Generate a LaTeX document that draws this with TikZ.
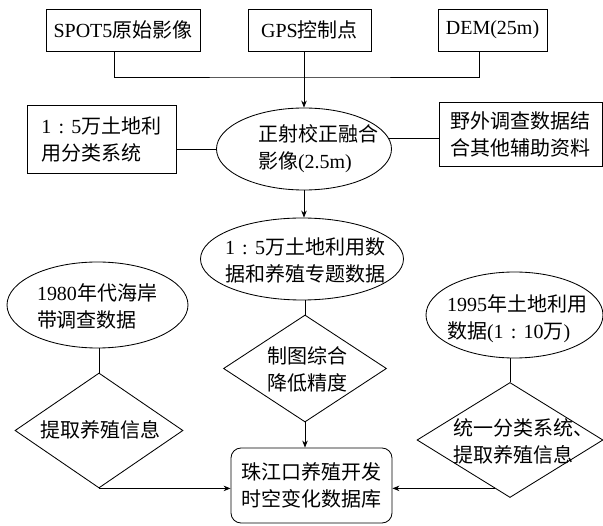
\documentclass[tikz,border=0pt]{standalone}
\usepackage{fontspec}
\setmainfont{Liberation Serif}
\newfontfamily\cjk{Noto Sans CJK SC}
\usetikzlibrary{shapes.geometric,arrows.meta,calc}
\newcommand\zh[1]{{\cjk #1}}
\newcommand\ratiocolon{\makebox[20pt][c]{:}}
\begin{document}
\begin{tikzpicture}[x=1pt,y=-1pt,
  box/.style={draw, line width=0.85pt, inner sep=0pt, fill=white, font=\fontsize{20}{27}\selectfont, align=left},
  rect/.style={box, rectangle},
  oval/.style={box, ellipse},
  dia/.style={box, diamond},
  txt/.style={inner sep=0pt, align=left, font=\fontsize{20}{27}\selectfont},
  link/.style={line width=0.85pt},
  arr/.style={link, -{Stealth[length=7pt,width=5.5pt]}}]
\useasboundingbox (0,0) rectangle (603,526);
% top sources
\node[rect, minimum width=154, minimum height=42] (spot) at (123,30) {SPOT5\zh{原始影像}};
\node[rect, minimum width=123, minimum height=42] (gps) at (309.5,30) {GPS\zh{控制点}};
\node[rect, minimum width=109, minimum height=42] (dem) at (492.5,30) {DEM(25m)};
% second row
\node[rect, minimum width=149, minimum height=68] (lbox) at (101.5,139) {1\ratiocolon 5\zh{万土地利}\\\zh{用分类系统}};
\node[oval, minimum width=175, minimum height=82] (e1) at (304,149) {};
\node[txt] (e1t) at (318,148.5) {\zh{正射校正融合}\\\zh{影像}(2.5m)};
\node[rect, minimum width=163, minimum height=64] (rbox) at (520.5,134) {\zh{野外调查数据结}\\\zh{合其他辅助资料}};
% third
\node[oval, minimum width=203, minimum height=82] (e2) at (302,259) {};
\node[txt] (e2t) at (305,260) {1\ratiocolon 5\zh{万土地利用数}\\\zh{据和养殖专题数据}};
\node[oval, minimum width=181, minimum height=86] (e80) at (97.5,305) {};
\node[txt] (e80t) at (97,306.5) {1980\zh{年代海岸}\\\zh{带调查数据}};
\node[oval, minimum width=177, minimum height=86] (e95) at (514.5,315) {};
\node[txt] (e95t) at (517,319) {1995\zh{年土地利用}\\\zh{数据}(1\ratiocolon 10\zh{万})};
% diamonds
\node[dia, minimum width=163, minimum height=107] (dm) at (305,368.5) {};
\node[txt] (dmt) at (307,369) {\zh{制图综合}\\\zh{降低精度}};
\node[dia, minimum width=168, minimum height=115] (dl) at (99,430.5) {};
\node[txt] (dlt) at (101,430) {\zh{提取养殖信息}};
\node[dia, minimum width=186, minimum height=115] (dr) at (510,440) {};
\node[txt] (drt) at (523,441.5) {\zh{统一分类系统、}\\\zh{提取养殖信息}};
% database
\node[rect, rounded corners=10pt, minimum width=161, minimum height=75] (db) at (311.5,485.5) {\zh{珠江口养殖开发}\\\zh{时空变化数据库}};
% connectors
\coordinate (jn) at (303,77);
\draw[link] ([xshift=-9pt]spot.south) |- (jn) -| ([xshift=-13.5pt]dem.south);
\draw[arr] (gps.south -| e1.north) -- (e1.north);
\draw[link] (lbox.east |- e1.west) -- (e1.west);
\draw[link] (e1.7.5) -- (rbox.west |- e1.7.5);
\draw[arr] (e1.south) -- (e1.south |- e2.north);
\draw[link] (e2.south -| dm.north) -- (dm.north);
\draw[arr] (dm.south) -- (dm.south |- db.north);
\draw[link] (e80.south -| dl.north) -- (dl.north);
\draw[arr] (dl.south) -- (dl.south -| db.west);
\draw[link] (e95.south -| dr.north) -- (dr.north);
\coordinate (drp) at ($(dr.west)!0.835!(dr.south)$);
\draw[arr] (drp) -- (drp -| db.east);
\end{tikzpicture}
\end{document}
